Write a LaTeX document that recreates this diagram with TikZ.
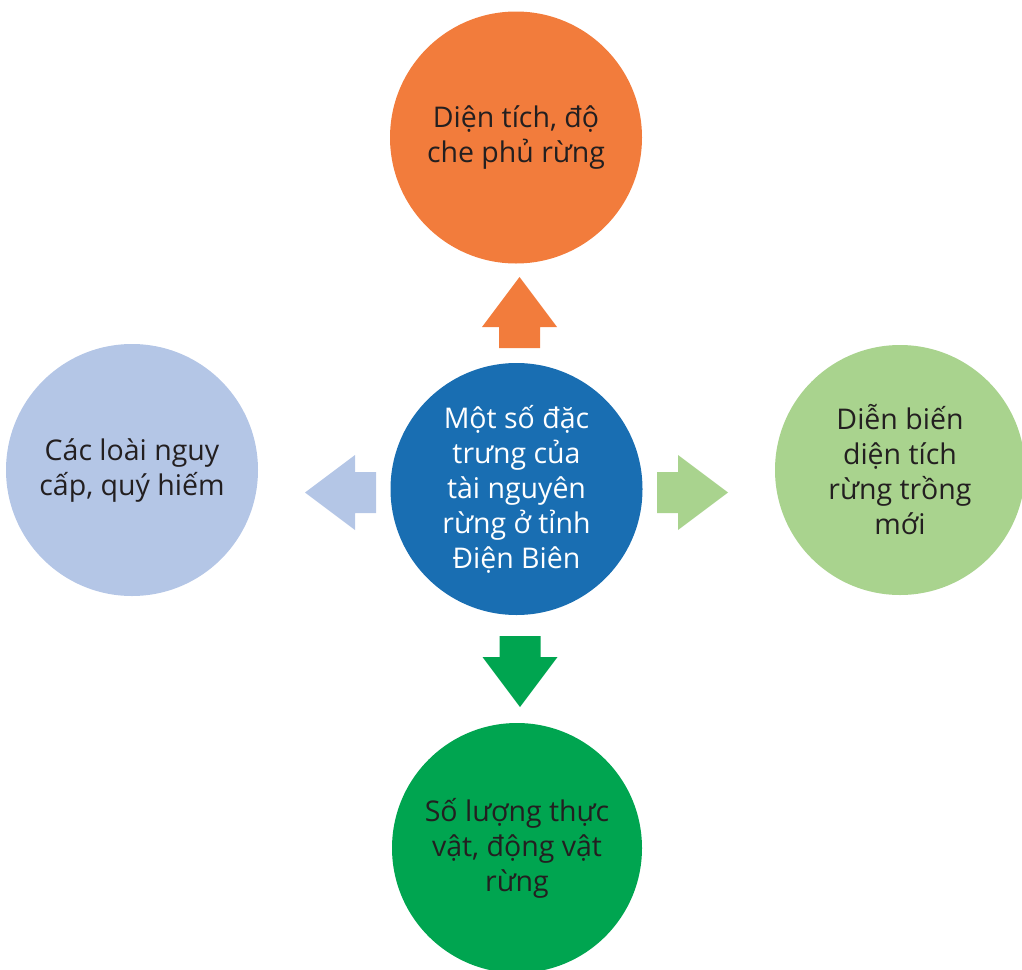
\documentclass[tikz,border=0pt]{standalone}
\usepackage{fontspec}
\setmainfont{Open Sans}
\definecolor{cam}{HTML}{F27C3C}
\definecolor{xanhdam}{HTML}{196EB2}
\definecolor{xanhnhat}{HTML}{B4C6E6}
\definecolor{lanhat}{HTML}{A9D38E}
\definecolor{la}{HTML}{00A550}
\definecolor{chu}{HTML}{231F20}
\tikzset{
  tron/.style={circle, minimum size=252pt, inner sep=0pt, align=center, text=chu,
    font=\fontsize{28.5}{35}\selectfont},
  muiten/.pic={\fill (0,-20.5) -- (21,-20.5) -- (21,-37.5) -- (71,0) -- (21,37.5) -- (21,20.5) -- (0,20.5) -- cycle;}
}
\begin{document}
\begin{tikzpicture}[x=1pt,y=-1pt]
\useasboundingbox (0,0) rectangle (1022,969);
\node[tron, fill=xanhdam, text=white] (giua) at (516.5,489) {Một số đặc\\trưng của\\tài nguyên\\rừng ở tỉnh\\Điện Biên};
\node[tron, fill=cam] (tren) at (516,137.5) {Diện tích, độ\\che phủ rừng};
\node[tron, fill=xanhnhat] (trai) at (132,470) {Các loài nguy\\cấp, quý hiếm};
\node[tron, fill=lanhat, minimum size=250pt] (phai) at (900,470) {Diễn biến\\diện tích\\rừng trồng\\mới};
\node[tron, fill=la, minimum size=250pt] (duoi) at (517,848) {Số lượng thực\\vật, động vật\\rừng};
% cac mui ten
\pic[cam, rotate=90] at (519.5,348) {muiten};
\pic[xanhnhat, rotate=180] at (376,492.5) {muiten};
\pic[lanhat] at (657,492.5) {muiten};
\pic[la, rotate=-90] at (520,636) {muiten};
\end{tikzpicture}
\end{document}
